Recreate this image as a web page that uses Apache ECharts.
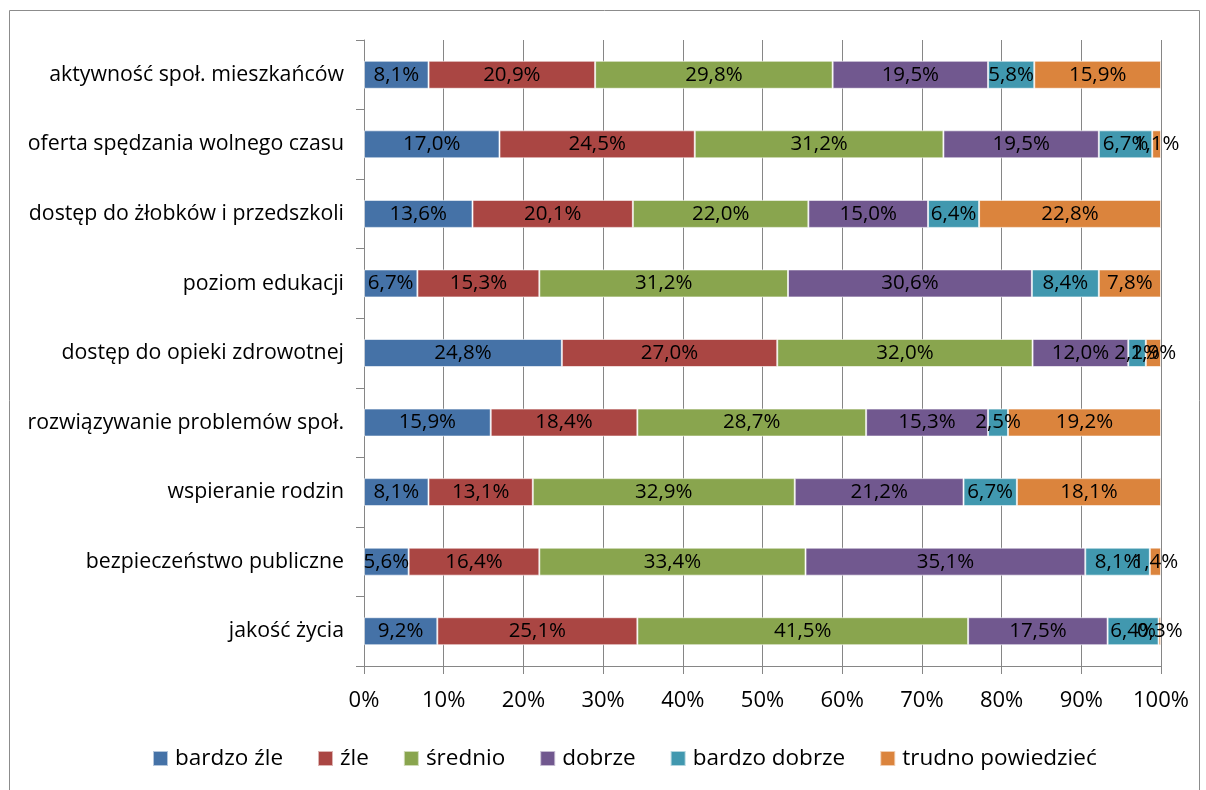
<!DOCTYPE html>
<html><head><meta charset="utf-8">
<script src="https://cdn.jsdelivr.net/npm/echarts@6/dist/echarts.min.js"></script>
<style>html,body{margin:0;padding:0;background:#fff}#c{width:1206px;height:790px}</style>
</head><body><div id="c"></div>
<script>
// categories bottom to top
const categories = ['jakość życia','bezpieczeństwo publiczne','wspieranie rodzin','rozwiązywanie problemów społ.','dostęp do opieki zdrowotnej','poziom edukacji','dostęp do żłobków i przedszkoli','oferta spędzania wolnego czasu','aktywność społ. mieszkańców'];
const seriesNames = ['bardzo źle','źle','średnio','dobrze','bardzo dobrze','trudno powiedzieć'];
const bardzoZle = [9.2,5.6,8.1,15.9,24.8,6.7,13.6,17.0,8.1];
const zle = [25.1,16.4,13.1,18.4,27.0,15.3,20.1,24.5,20.9];
const srednio = [41.5,33.4,32.9,28.7,32.0,31.2,22.0,31.2,29.8];
const dobrze = [17.5,35.1,21.2,15.3,12.0,30.6,15.0,19.5,19.5];
const bardzoDobrze = [6.4,8.1,6.7,2.5,2.2,8.4,6.4,6.7,5.8];
const trudno = [0.3,1.4,18.1,19.2,1.9,7.8,22.8,1.1,15.9];
const xTicks = ['0%','10%','20%','30%','40%','50%','60%','70%','80%','90%','100%'];

const colors = ['#4572A7','#AA4643','#89A54E','#71588F','#4198AF','#DB843D'];
const all = [bardzoZle,zle,srednio,dobrze,bardzoDobrze,trudno];
const totals = categories.map((_,i)=>all.reduce((s,a)=>s+a[i],0));
const FONT = '"Open Sans"';

const series = all.map((arr,si)=>({
  name: seriesNames[si],
  type:'bar',
  stack:'total',
  barWidth:28,
  itemStyle:{color:colors[si],borderColor:'rgba(255,255,255,0.6)',borderWidth:1},
  label:{show:true,position:'inside',color:'#000',fontFamily:FONT,fontSize:20.5,
    formatter:p=>p.data.raw.toFixed(1).replace('.',',')+'%'},
  labelLayout:{hideOverlap:false},
  data: arr.map((v,i)=>({value: v/totals[i]*100, raw: v}))
}));

const chart = echarts.init(document.getElementById('c'),null,{renderer:'canvas'});
chart.setOption({
  animation:false,
  color:colors,
  graphic:[{type:'rect',shape:{x:9.5,y:10.5,width:1190,height:800},style:{fill:'none',stroke:'#8c8c8c',lineWidth:1},silent:true}],
  grid:{left:364,right:45,top:40,height:626,containLabel:false},
  legend:{bottom:15,left:147,itemWidth:15,itemHeight:15,itemGap:34,icon:'rect',
    textStyle:{fontFamily:FONT,fontSize:22.5,color:'#000',padding:[0,0,0,2]},data:seriesNames},
  xAxis:{type:'value',min:0,max:100,interval:10,
    axisLabel:{formatter:(v)=>xTicks[Math.round(v/10)],fontFamily:FONT,fontSize:22,color:'#000',margin:24},
    axisLine:{show:true,lineStyle:{color:'#868686',width:1}},
    axisTick:{show:true,length:8,lineStyle:{color:'#868686'}},
    splitLine:{show:true,lineStyle:{color:'#868686',width:1}}},
  yAxis:{type:'category',data:categories,
    axisLabel:{fontFamily:FONT,fontSize:21.3,color:'#000',margin:20},
    axisLine:{show:true,lineStyle:{color:'#868686',width:1}},
    axisTick:{show:true,length:8,lineStyle:{color:'#868686'}}},
  series
});
</script></body></html>
